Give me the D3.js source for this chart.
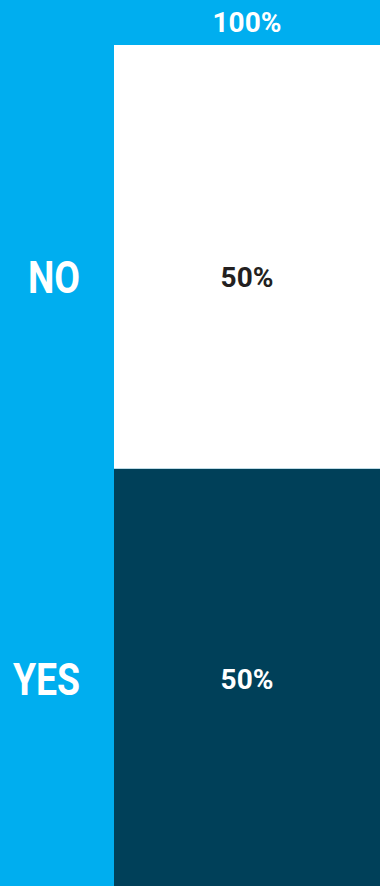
<!DOCTYPE html>
<html>
<head>
<meta charset="utf-8">
<script src="https://cdn.jsdelivr.net/npm/d3@7"></script>
<style>
  html, body { margin: 0; padding: 0; background: #00aeef; }
  svg { display: block; }
</style>
</head>
<body>
<svg></svg>
<script>
let categories = ['NO', 'YES']      // answer options, top to bottom
let values = [50.4, 49.6]           // share of answers, percent
let totalLabel = '100%'             // header label
let colors = ['#ffffff', '#004059'] // fill per segment
let labelColors = ['#231f20', '#ffffff']

let width = 380
let height = 886
let headerH = 45  // top strip with the total
let leftW = 114   // left strip with the category names

let svg = d3.select('svg')
    .attr('width', width)
    .attr('height', height)

// background strip (header + left column)
svg.append('rect')
    .attr('width', width)
    .attr('height', height)
    .attr('fill', '#00aeef')

// stacked values -> [start, end]
let stacked = []
let acc = 0
values.forEach((v, i) => {
    stacked.push({ cat: categories[i], value: v, y0: acc, y1: acc + v, i: i })
    acc += v
})

let yScale = d3.scaleLinear()
    .domain([0, d3.sum(values)])
    .range([headerH, height])

// labels sit a bit lower inside the top segment, like the original
let labelScale = d3.scaleLinear()
    .domain([0, d3.sum(values)])
    .range([headerH + 30, height - 7])

let fmt = (v) => Math.round(v) + '%'

svg.selectAll('rect.seg')
    .data(stacked)
    .enter()
    .append('rect')
    .attr('class', 'seg')
    .attr('x', leftW)
    .attr('width', width - leftW)
    .attr('y', (d) => yScale(d.y0))
    .attr('height', (d) => yScale(d.y1) - yScale(d.y0))
    .attr('fill', (d) => colors[d.i])

// value labels
svg.selectAll('text.val')
    .data(stacked)
    .enter()
    .append('text')
    .attr('class', 'val')
    .attr('x', (leftW + width) / 2)
    .attr('y', (d) => labelScale((d.y0 + d.y1) / 2))
    .attr('dy', '0.35em')
    .attr('text-anchor', 'middle')
    .attr('font-family', 'Roboto, sans-serif')
    .attr('font-weight', 'bold')
    .attr('font-size', 28)
    .attr('fill', (d) => labelColors[d.i])
    .text((d) => fmt(d.value))

// category labels, right aligned, condensed
svg.selectAll('text.cat')
    .data(stacked)
    .enter()
    .append('text')
    .attr('class', 'cat')
    .attr('transform', (d) => 'translate(80,' + labelScale((d.y0 + d.y1) / 2) + ') scale(0.83,1)')
    .attr('dy', '0.35em')
    .attr('text-anchor', 'end')
    .attr('font-family', 'Roboto, sans-serif')
    .attr('font-weight', 'bold')
    .attr('font-size', 45)
    .attr('fill', '#ffffff')
    .text((d) => d.cat)

// header total
svg.append('text')
    .attr('x', (leftW + width) / 2)
    .attr('y', headerH / 2)
    .attr('dy', '0.35em')
    .attr('text-anchor', 'middle')
    .attr('font-family', 'Roboto, sans-serif')
    .attr('font-weight', 'bold')
    .attr('font-size', 28)
    .attr('fill', '#ffffff')
    .text(totalLabel)
</script>
</body>
</html>
